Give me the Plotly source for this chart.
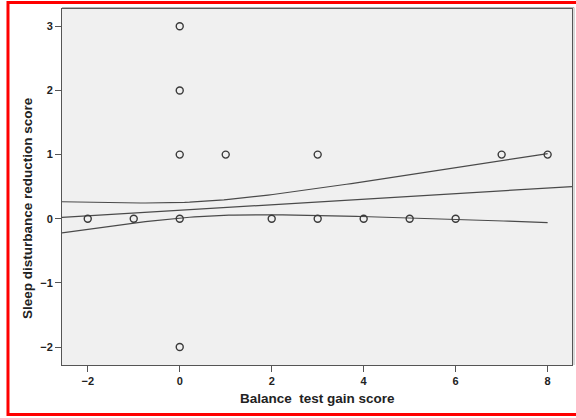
import numpy as np
import plotly.graph_objects as go

# Observed (gain, reduction) pairs and how many subjects share each pair
balance_gain = [-2, -1, 0, 0, 0, 0, 0, 1, 2, 3, 3, 4, 5, 6, 7, 8]
sleep_reduction = [0, 0, 3, 2, 1, 0, -2, 1, 0, 1, 0, 0, 0, 0, 1, 1]
subject_counts = [3, 2, 1, 4, 7, 81, 3, 2, 2, 2, 1, 2, 2, 3, 1, 1]

x_ticks = [-2, 0, 2, 4, 6, 8]
y_ticks = [-2, -1, 0, 1, 2, 3]
x_range = [-2.56, 8.53]
y_range = [-2.28, 3.27]

# Expand to one row per subject and fit an OLS line with a 95% mean-CI band
xs = np.repeat(np.array(balance_gain, float), subject_counts)
ys = np.repeat(np.array(sleep_reduction, float), subject_counts)
n = len(xs)
xbar, ybar = xs.mean(), ys.mean()
sxx = ((xs - xbar) ** 2).sum()
sxy = ((xs - xbar) * (ys - ybar)).sum()
slope = sxy / sxx
intercept = ybar - slope * xbar
resid = ys - (intercept + slope * xs)
s2 = (resid ** 2).sum() / (n - 2)
t_crit = 1.981  # t(0.975, df = n - 2)

fit_x = np.linspace(x_range[0], x_range[1], 100)
fit_y = intercept + slope * fit_x
ci_x = np.linspace(x_range[0], max(balance_gain), 100)
half = t_crit * np.sqrt(s2 * (1.0 / n + (ci_x - xbar) ** 2 / sxx))
ci_mid = intercept + slope * ci_x

line_style = dict(color="#4a4a4a", width=1.2)

fig = go.Figure()
fig.add_trace(go.Scatter(x=ci_x, y=ci_mid + half, mode="lines", line=line_style, hoverinfo="skip"))
fig.add_trace(go.Scatter(x=ci_x, y=ci_mid - half, mode="lines", line=line_style, hoverinfo="skip"))
fig.add_trace(go.Scatter(x=fit_x, y=fit_y, mode="lines", line=line_style, hoverinfo="skip"))
fig.add_trace(go.Scatter(
    x=balance_gain, y=sleep_reduction, mode="markers",
    marker=dict(symbol="circle-open", size=7, color="#3a3a3a", line=dict(width=1.4)),
))

font_family = "Liberation Sans, Arial, sans-serif"
axis_common = dict(
    showgrid=False, zeroline=False, showline=True, linecolor="#555555", linewidth=1,
    mirror=True, ticks="outside", ticklen=6, tickcolor="#555555",
    tickfont=dict(family=font_family, size=11, color="#222222", weight="bold"),
)

fig.update_layout(
    width=576, height=418,
    margin=dict(l=62, r=4, t=9, b=53),
    paper_bgcolor="white", plot_bgcolor="#f0f0f0",
    showlegend=False,
    xaxis=dict(range=x_range, tickvals=x_ticks, **axis_common),
    yaxis=dict(range=y_range, tickvals=y_ticks, **axis_common),
    annotations=[
        dict(text="<b>Balance\u00a0 test gain score</b>", xref="paper", yref="paper",
             x=0.5, y=-0.093, xanchor="center", yanchor="middle", showarrow=False,
             font=dict(family=font_family, size=13.5, color="#222222")),
        dict(text="<b>Sleep disturbance reduction score</b>", xref="paper", yref="paper",
             x=-0.068, y=0.442, xanchor="center", yanchor="middle", textangle=-90,
             showarrow=False, font=dict(family=font_family, size=13.5, color="#222222")),
    ],
    shapes=[
        # shadow along the top and right edges of the frame
        dict(type="line", xref="paper", yref="paper", x0=0, x1=1.004, y0=1.004, y1=1.004,
             line=dict(color="#b0b0b0", width=1)),
        dict(type="line", xref="paper", yref="paper", x0=1.004, x1=1.004, y0=0, y1=1.004,
             line=dict(color="#b0b0b0", width=1)),
        # red outline around the whole figure
        dict(type="rect", xref="paper", yref="paper", x0=-0.1059, x1=1.02, y0=-0.139, y1=1.018,
             line=dict(color="#ff0000", width=3)),
    ],
)

fig.write_html("out.html")
